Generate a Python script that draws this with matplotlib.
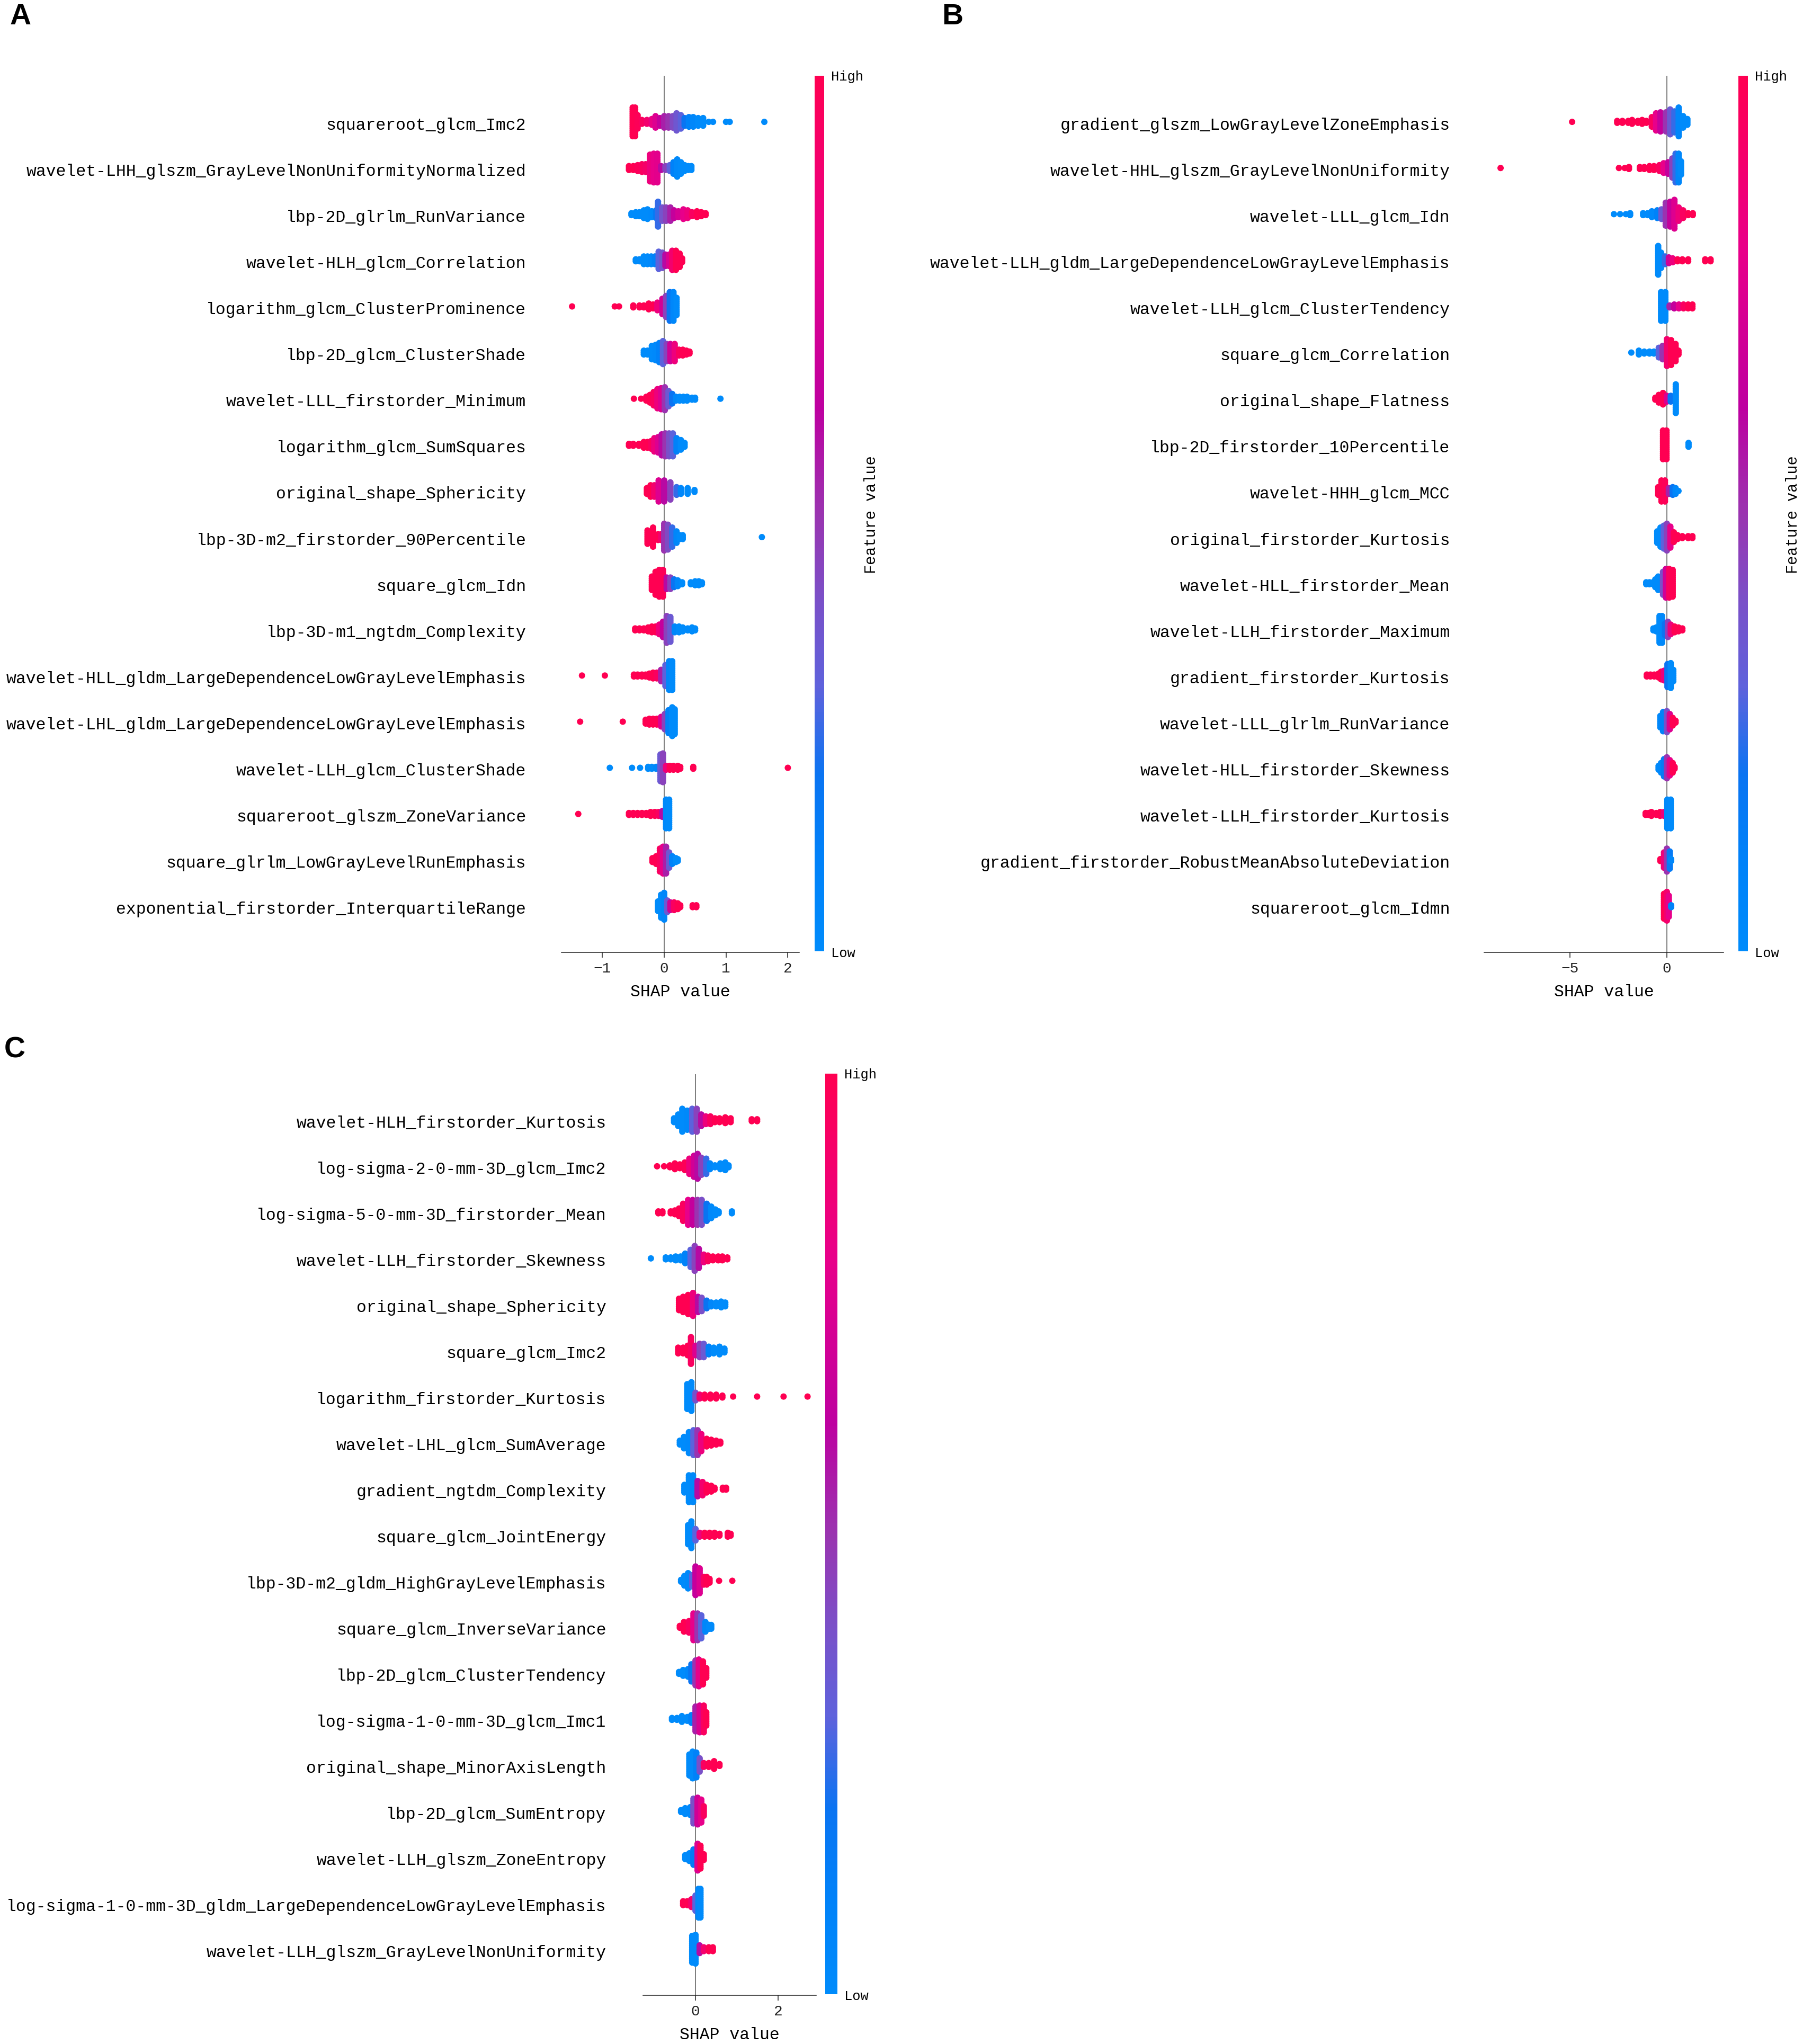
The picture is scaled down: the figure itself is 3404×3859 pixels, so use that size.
import numpy as np
from matplotlib import pyplot as plt
from matplotlib.cm import ScalarMappable
from matplotlib.colors import LinearSegmentedColormap, Normalize
from matplotlib.transforms import ScaledTranslation

W, H = 3405, 3859

features_a = [
    'squareroot_glcm_Imc2', 'wavelet-LHH_glszm_GrayLevelNonUniformityNormalized',
    'lbp-2D_glrlm_RunVariance', 'wavelet-HLH_glcm_Correlation',
    'logarithm_glcm_ClusterProminence', 'lbp-2D_glcm_ClusterShade',
    'wavelet-LLL_firstorder_Minimum', 'logarithm_glcm_SumSquares',
    'original_shape_Sphericity', 'lbp-3D-m2_firstorder_90Percentile',
    'square_glcm_Idn', 'lbp-3D-m1_ngtdm_Complexity',
    'wavelet-HLL_gldm_LargeDependenceLowGrayLevelEmphasis',
    'wavelet-LHL_gldm_LargeDependenceLowGrayLevelEmphasis',
    'wavelet-LLH_glcm_ClusterShade', 'squareroot_glszm_ZoneVariance',
    'square_glrlm_LowGrayLevelRunEmphasis', 'exponential_firstorder_InterquartileRange',
]
features_b = [
    'gradient_glszm_LowGrayLevelZoneEmphasis', 'wavelet-HHL_glszm_GrayLevelNonUniformity',
    'wavelet-LLL_glcm_Idn', 'wavelet-LLH_gldm_LargeDependenceLowGrayLevelEmphasis',
    'wavelet-LLH_glcm_ClusterTendency', 'square_glcm_Correlation',
    'original_shape_Flatness', 'lbp-2D_firstorder_10Percentile',
    'wavelet-HHH_glcm_MCC', 'original_firstorder_Kurtosis',
    'wavelet-HLL_firstorder_Mean', 'wavelet-LLH_firstorder_Maximum',
    'gradient_firstorder_Kurtosis', 'wavelet-LLL_glrlm_RunVariance',
    'wavelet-HLL_firstorder_Skewness', 'wavelet-LLH_firstorder_Kurtosis',
    'gradient_firstorder_RobustMeanAbsoluteDeviation', 'squareroot_glcm_Idmn',
]
features_c = [
    'wavelet-HLH_firstorder_Kurtosis', 'log-sigma-2-0-mm-3D_glcm_Imc2',
    'log-sigma-5-0-mm-3D_firstorder_Mean', 'wavelet-LLH_firstorder_Skewness',
    'original_shape_Sphericity', 'square_glcm_Imc2',
    'logarithm_firstorder_Kurtosis', 'wavelet-LHL_glcm_SumAverage',
    'gradient_ngtdm_Complexity', 'square_glcm_JointEnergy',
    'lbp-3D-m2_gldm_HighGrayLevelEmphasis', 'square_glcm_InverseVariance',
    'lbp-2D_glcm_ClusterTendency', 'log-sigma-1-0-mm-3D_glcm_Imc1',
    'original_shape_MinorAxisLength', 'lbp-2D_glcm_SumEntropy',
    'wavelet-LLH_glszm_ZoneEntropy',
    'log-sigma-1-0-mm-3D_gldm_LargeDependenceLowGrayLevelEmphasis',
    'wavelet-LLH_glszm_GrayLevelNonUniformity',
]

# for every feature: shap value of a column of the swarm, dots in it, feature value
shap_a = [
    [-.51, -.47, -.43, -.36, -.28, -.2, -.14, -.07, 0, .07, .14, .2, .27, .33, .4, .47, .55, .63, .72, .79, 1.0, 1.06, 1.62],
    [-.57, -.5, -.43, -.36, -.3, -.23, -.17, -.11, -.05, .02, .09, .15, .21, .27, .33, .39, .44],
    [-.53, -.46, -.4, -.33, -.27, -.2, -.13, -.1, -.03, .03, .1, .16, .23, .31, .38, .45, .53, .6, .67],
    [-.46, -.4, -.33, -.27, -.21, -.15, -.09, -.03, .02, .08, .13, .19, .25, .29],
    [-1.49, -.8, -.73, -.5, -.4, -.33, -.25, -.18, -.11, -.03, .03, .09, .15, .2],
    [-.33, -.27, -.2, -.14, -.08, -.02, .04, .1, .17, .24, .3, .36, .41],
    [-.49, -.375, -.29, -.23, -.17, -.11, -.05, .01, .07, .13, .19, .25, .31, .37, .45, .5, .91],
    [-.57, -.5, -.41, -.33, -.27, -.21, -.16, -.1, -.04, .02, .08, .14, .2, .27, .33],
    [-.28, -.22, -.16, -.09, 0, .1, .2, .27, .38, .49],
    [-.27, -.18, -.1, -.05, 0, .06, .13, .2, .25, .3, 1.58],
    [-.2, -.14, -.08, -.02, .04, .1, .16, .22, .29, .43, .5, .56, .61],
    [-.47, -.4, -.33, -.26, -.2, -.14, -.08, -.02, .04, .1, .17, .24, .3, .38, .45, .5],
    [-1.33, -.96, -.49, -.43, -.36, -.3, -.24, -.18, -.12, -.05, .02, .08, .13],
    [-1.36, -.67, -.3, -.24, -.18, -.12, -.05, .01, .07, .13, .17],
    [-.88, -.52, -.39, -.26, -.2, -.13, -.06, -.02, .03, .09, .15, .22, .26, .47, 2.0],
    [-1.39, -.57, -.5, -.43, -.36, -.29, -.22, -.15, -.09, -.03, .03, .08],
    [-.19, -.13, -.07, -.02, .03, .08, .13, .19, .22],
    [-.1, -.05, 0, .05, .1, .16, .22, .26, .46, .52],
]
count_a = [
    [16, 16, 8, 3, 3, 4, 7, 5, 7, 7, 7, 10, 8, 5, 6, 6, 5, 5, 1, 1, 1, 1, 1],
    [3, 3, 4, 5, 5, 15, 16, 16, 3, 3, 4, 7, 10, 7, 4, 3, 3],
    [2, 3, 3, 5, 6, 4, 5, 14, 8, 8, 8, 5, 4, 6, 5, 3, 4, 3, 2],
    [2, 2, 5, 5, 5, 5, 10, 9, 7, 7, 11, 11, 8, 3],
    [1, 1, 1, 2, 2, 2, 4, 3, 5, 9, 12, 16, 16, 10],
    [3, 3, 8, 9, 11, 13, 10, 10, 10, 4, 4, 3, 2],
    [1, 1, 3, 5, 8, 11, 12, 13, 9, 6, 3, 3, 3, 3, 2, 2, 1],
    [2, 2, 2, 4, 4, 5, 8, 9, 12, 13, 13, 13, 8, 6, 3],
    [4, 7, 7, 12, 12, 10, 5, 4, 4, 2],
    [8, 11, 4, 4, 15, 14, 11, 7, 3, 3, 1],
    [8, 13, 15, 15, 7, 7, 5, 4, 2, 2, 3, 3, 2],
    [2, 2, 2, 3, 4, 4, 6, 9, 15, 14, 4, 4, 3, 2, 3, 2],
    [1, 1, 2, 2, 2, 2, 3, 4, 4, 7, 12, 16, 16],
    [1, 1, 3, 4, 4, 4, 6, 9, 13, 16, 14],
    [1, 1, 1, 2, 2, 2, 15, 16, 3, 3, 3, 3, 2, 2, 1],
    [1, 2, 2, 2, 2, 2, 3, 3, 3, 4, 16, 16],
    [3, 5, 13, 15, 15, 9, 5, 3, 2],
    [6, 13, 15, 7, 5, 5, 4, 2, 2, 2],
]
value_a = [
    [1, 1, .98, .95, .9, .82, .75, .65, .55, .5, .42, .36, .3, .2, .1, .05, 0, 0, 0, 0, 0, 0, 0],
    [1, 1, .97, .95, .92, .85, .8, .78, .6, .45, .3, .1, .03, 0, 0, 0, 0],
    [0, 0, 0, 0, 0, .02, .15, .25, .38, .45, .55, .65, .72, .8, .85, .95, 1, 1, 1],
    [0, 0, 0, 0, .02, .1, .3, .38, .6, .75, .9, 1, 1, 1],
    [1, 1, 1, 1, 1, 1, 1, 1, .85, .7, .45, .2, .05, 0],
    [0, 0, 0, .02, .1, .3, .45, .7, .85, .95, 1, 1, 1],
    [1, 1, 1, 1, .95, .85, .75, .5, .35, .2, .05, 0, 0, 0, 0, 0, 0],
    [1, 1, 1, 1, 1, .95, .85, .75, .6, .5, .4, .3, .1, 0, 0],
    [1, 1, .9, .75, .6, .45, .25, .05, 0, 0],
    [1, 1, 1, .9, .5, .42, .25, .05, 0, 0, 0],
    [1, 1, 1, .98, .6, .45, .2, .05, 0, 0, 0, 0, 0],
    [1, 1, 1, 1, 1, 1, .85, .65, .45, .35, .05, 0, 0, 0, 0, 0],
    [1, 1, 1, 1, 1, 1, 1, 1, .95, .55, .3, .05, 0],
    [1, 1, 1, 1, 1, 1, .75, .45, .1, 0, 0],
    [0, 0, 0, 0, 0, .05, .35, .45, .85, 1, 1, 1, 1, 1, 1],
    [1, 1, 1, 1, 1, 1, 1, 1, .95, .6, .02, 0],
    [1, 1, .95, .8, .55, .35, .1, 0, 0],
    [0, 0, .05, .35, .7, .95, 1, 1, 1, 1],
]

shap_b = [
    [-4.9, -2.57, -2.3, -2.0, -1.8, -1.5, -1.28, -1.06, -.78, -.56, -.33, -.05, .17, .39, .61, .84, 1.06],
    [-8.6, -2.48, -2.18, -1.96, -1.4, -1.17, -.9, -.67, -.39, -.17, .06, .28, .45, .61, .73],
    [-2.74, -2.42, -2.12, -1.9, -1.23, -1.0, -.78, -.5, -.28, -.06, .17, .39, .61, .84, 1.1, 1.34],
    [-.45, -.3, -.1, .1, .3, .55, .8, 1.1, 1.98, 2.26],
    [-.3, -.08, .14, .38, .62, .86, 1.1, 1.32],
    [-1.84, -1.45, -1.17, -.9, -.67, -.42, -.22, 0, .22, .45, .6],
    [-.6, -.42, -.2, 0, .2, .46],
    [-.2, -.02, 1.12],
    [-.45, -.28, -.1, .1, .3, .45, .6],
    [-.5, -.33, -.16, 0, .18, .36, .55, .8, 1.1, 1.32],
    [-1.07, -.9, -.72, -.6, -.45, -.2, -.05, .12, .3],
    [-.7, -.55, -.38, -.25, -.1, .05, .2, .4, .6, .8],
    [-1.04, -.85, -.65, -.43, -.3, -.15, .03, .2, .33],
    [-.34, -.2, 0, .15, .3, .45],
    [-.43, -.3, -.15, 0, .15, .3, .4],
    [-1.1, -.95, -.8, -.55, -.35, -.15, .02, .2],
    [-.34, -.15, 0, .15, .22],
    [-.15, 0, .1, .22],
]
count_b = [
    [1, 2, 2, 2, 3, 2, 3, 2, 6, 10, 11, 11, 14, 12, 16, 7, 4],
    [1, 1, 1, 2, 2, 2, 3, 3, 4, 6, 7, 11, 16, 16, 8],
    [1, 1, 1, 2, 2, 2, 4, 5, 6, 13, 14, 16, 8, 5, 2, 2],
    [16, 9, 5, 4, 3, 2, 2, 2, 2, 2],
    [16, 16, 2, 3, 3, 3, 3, 3],
    [1, 3, 2, 2, 2, 6, 8, 15, 14, 10, 3],
    [2, 5, 7, 4, 4, 16],
    [16, 16, 3],
    [5, 12, 12, 4, 5, 4, 1],
    [7, 11, 13, 15, 12, 6, 3, 2, 2, 2],
    [2, 2, 2, 5, 8, 13, 16, 16, 15],
    [2, 3, 15, 15, 7, 9, 6, 4, 3, 2],
    [2, 2, 2, 3, 5, 6, 13, 14, 7],
    [7, 11, 12, 9, 5, 2],
    [3, 6, 10, 12, 9, 6, 2],
    [2, 2, 3, 2, 3, 3, 16, 16],
    [2, 9, 13, 10, 2],
    [14, 16, 12, 2],
]
value_b = [
    [1, 1, 1, 1, 1, 1, 1, 1, .95, .8, .65, .5, .35, .25, .05, 0, 0],
    [1, 1, 1, 1, 1, 1, 1, 1, .95, .8, .65, .45, .25, .05, 0],
    [0, 0, 0, 0, 0, 0, .02, .1, .35, .5, .65, .75, .85, .95, 1, 1],
    [0, 0, .25, .7, .85, 1, 1, 1, 1, 1],
    [0, 0, .55, .65, .8, .95, 1, 1],
    [0, 0, 0, 0, 0, .3, .5, .9, 1, 1, 1],
    [1, 1, 1, .75, .2, 0],
    [1, 1, 0],
    [1, 1, .98, .55, .2, .05, 0],
    [0, 0, .3, .45, .8, 1, 1, 1, 1, 1],
    [0, 0, 0, 0, 0, .4, .7, .95, 1],
    [0, 0, 0, .02, .2, .45, .85, 1, 1, 1],
    [1, 1, 1, 1, 1, .85, .2, 0, 0],
    [.05, .1, .4, .75, 1, 1],
    [.02, .05, .15, .5, .8, 1, 1],
    [1, 1, 1, 1, 1, .85, .03, 0],
    [1, .85, .5, .15, .05],
    [1, .9, .8, .1],
]

shap_c = [
    [-.52, -.42, -.32, -.2, -.08, .03, .14, .25, .36, .47, .58, .72, .85, 1.36, 1.49],
    [-.93, -.76, -.62, -.5, -.38, -.26, -.15, -.04, .05, .14, .26, .35, .47, .6, .72, .8],
    [-.9, -.8, -.6, -.5, -.4, -.3, -.18, -.07, .05, .15, .27, .38, .48, .56, .88],
    [-1.08, -.72, -.6, -.48, -.36, -.25, -.12, -.02, .08, .2, .3, .42, .55, .65, .77],
    [-.4, -.3, -.18, -.06, .06, .15, .27, .38, .5, .62, .72],
    [-.42, -.3, -.19, -.11, 0, .1, .2, .32, .44, .58, .7],
    [-.2, -.1, 0, .1, .22, .36, .5, .65, .91, 1.49, 2.13, 2.71],
    [-.38, -.28, -.16, -.05, .05, .14, .27, .38, .5, .6],
    [-.27, -.16, -.06, .05, .17, .27, .38, .46, .66, .74],
    [-.18, -.1, 0, .1, .22, .34, .46, .58, .78, .85],
    [-.35, -.27, -.18, -.08, 0, .1, .2, .27, .34, .57, .89],
    [-.38, -.28, -.16, -.05, .05, .14, .24, .33, .38],
    [-.4, -.3, -.18, -.1, 0, .08, .18, .26],
    [-.57, -.45, -.33, -.2, -.1, 0, .1, .2, .26],
    [-.15, -.07, .02, .1, .2, .32, .45, .58],
    [-.35, -.25, -.13, -.05, .05, .14, .2],
    [-.25, -.15, -.05, .05, .12, .2],
    [-.3, -.2, -.1, 0, .07, .12],
    [-.08, 0, .1, .2, .32, .42],
]
count_c = [
    [3, 7, 13, 11, 13, 13, 7, 5, 5, 3, 3, 4, 3, 2, 2],
    [1, 1, 2, 4, 3, 5, 9, 12, 14, 10, 9, 4, 2, 4, 5, 2],
    [2, 2, 2, 3, 5, 10, 14, 14, 14, 14, 10, 7, 4, 2, 2],
    [1, 2, 2, 3, 3, 6, 10, 14, 11, 5, 4, 3, 3, 3, 2],
    [7, 9, 11, 13, 9, 8, 5, 3, 3, 4, 3],
    [4, 4, 6, 15, 6, 8, 8, 5, 4, 5, 3],
    [14, 16, 5, 3, 3, 3, 3, 2, 1, 1, 1, 1],
    [3, 7, 12, 14, 14, 10, 5, 4, 3, 2],
    [5, 15, 15, 9, 8, 5, 4, 2, 2, 2],
    [11, 15, 7, 3, 3, 3, 3, 2, 3, 2],
    [2, 6, 9, 7, 16, 14, 5, 5, 3, 1, 1],
    [2, 6, 7, 15, 15, 13, 6, 3, 3],
    [2, 4, 5, 10, 14, 15, 13, 6],
    [2, 2, 4, 3, 5, 14, 15, 15, 8],
    [12, 15, 14, 8, 3, 3, 5, 2],
    [2, 4, 5, 14, 15, 13, 6],
    [3, 5, 9, 15, 13, 4],
    [3, 3, 5, 9, 16, 16],
    [15, 16, 5, 3, 3, 3],
]
value_c = [
    [0, 0, 0, .03, .3, .45, .6, .85, .95, 1, 1, 1, 1, 1, 1],
    [1, 1, 1, 1, 1, .98, .85, .7, .6, .45, .25, .05, 0, 0, 0, 0],
    [1, 1, 1, 1, 1, .95, .8, .65, .5, .4, .2, .03, 0, 0, 0],
    [0, 0, 0, 0, 0, .1, .3, .45, .6, .85, .95, 1, 1, 1, 1],
    [1, 1, 1, .85, .6, .4, .2, .05, 0, 0, 0],
    [1, 1, 1, .95, .75, .45, .35, .1, 0, 0, 0],
    [0, 0, .4, .9, 1, 1, 1, 1, 1, 1, 1, 1],
    [0, 0, .02, .3, .5, .85, 1, 1, 1, 1],
    [0, 0, .03, .6, .9, 1, 1, 1, 1, 1],
    [0, 0, .3, .85, 1, 1, 1, 1, 1, 1],
    [0, 0, .03, .3, .65, .75, .95, 1, 1, 1, 1],
    [1, 1, .95, .8, .5, .3, .05, 0, 0],
    [0, 0, .05, .2, .5, .8, 1, 1],
    [0, 0, 0, 0, .1, .55, .75, .95, 1],
    [0, 0, .1, .4, .95, 1, 1, 1],
    [0, 0, .02, .4, .7, .8, .95],
    [0, .03, .15, .75, 1, 1],
    [1, 1, .9, .3, .02, 0],
    [0, 0, .6, .9, 1, 1],
]

# colour bar stops, low to high
cmap_pos = [0, .1, .2, .3, .4, .5, .62, .8, 1]
cmap_col = ['#008bfb', '#0082f9', '#0a74f2', '#5e62dc', '#7a50c8', '#9a34b0', '#bd00a0', '#e8008a', '#ff0052']

NAVY = '#222222'
MONO = 'Liberation Mono'

red_blue = LinearSegmentedColormap.from_list('red_blue', list(zip(cmap_pos, cmap_col)))


def px_axes(fig, left, right, top, bottom):
    return fig.add_axes([left / W, 1 - bottom / H, (right - left) / W, (bottom - top) / H])


def px_text(fig, x, y, s, **kw):
    fig.text(x / W, 1 - y / H, s, **kw)


def swarm(fig, box, xlim, xticks, features, shap, count, value, pad):
    ax = px_axes(fig, *box)
    n = len(features)
    xs, ys, cs = [], [], []
    for i, (sx, sn, sv) in enumerate(zip(shap, count, value, strict=True)):
        for x, c, v in zip(sx, sn, sv, strict=True):
            off = (np.arange(c) - (c - 1) / 2) * 0.0414
            xs.extend([x] * c)
            ys.extend(n - 1 - i + off)
            cs.extend([v] * c)
    ax.axvline(0, color='#666666', lw=1.2, zorder=1)
    ax.scatter(xs, ys, c=cs, s=75, cmap=red_blue, vmin=0, vmax=1, linewidths=0, zorder=3)
    ax.set_xlim(*xlim)
    ax.set_ylim(-1, n)
    ax.set_yticks(range(n))
    ax.set_yticklabels(features[::-1], family=MONO, fontsize=22.6, color='black')
    ax.tick_params(axis='y', length=0, pad=pad)
    # reference labels sit a little under the row centre
    down = ScaledTranslation(0, -3 / 100, fig.dpi_scale_trans)
    for lab in ax.get_yticklabels():
        lab.set_transform(lab.get_transform() + down)
    ax.set_xticks(xticks)
    ax.tick_params(axis='x', length=7, width=1.1, color=NAVY, pad=6, labelsize=20, labelcolor=NAVY)
    for lab in ax.get_xticklabels():
        lab.set_family(MONO)
    for side in ('left', 'right', 'top'):
        ax.spines[side].set_visible(False)
    ax.spines['bottom'].set_color(NAVY)
    ax.spines['bottom'].set_linewidth(1.1)
    px_text(fig, (box[0] + box[1]) / 2, box[3] + 75, 'SHAP value', family=MONO, fontsize=22.6,
            ha='center', va='center')


def value_bar(fig, box, feature_x=None):
    cax = px_axes(fig, *box)
    cb = fig.colorbar(ScalarMappable(Normalize(0, 1), red_blue), cax=cax)
    cb.set_ticks([])
    cb.outline.set_visible(False)
    left, right, top, bottom = box
    px_text(fig, right + 13, top + 2, 'High', family=MONO, fontsize=18.4, va='center')
    px_text(fig, right + 13, bottom + 4, 'Low', family=MONO, fontsize=18.4, va='center')
    if feature_x:
        px_text(fig, feature_x, (top + bottom) / 2 + 2, 'Feature value', family=MONO, fontsize=20.6,
                rotation=90, ha='center', va='center')


fig = plt.figure(figsize=(W / 100, H / 100), dpi=100, facecolor='white')

swarm(fig, (1060, 1509, 143, 1798), (-1.662, 2.185), [-1, 0, 1, 2],
      features_a, shap_a, count_a, value_a, 48)
value_bar(fig, (1538, 1556, 143, 1796), 1645)

swarm(fig, (2802, 3254, 143, 1798), (-9.45, 2.93), [-5, 0],
      features_b, shap_b, count_b, value_b, 46.5)
value_bar(fig, (3282, 3300, 143, 1796), 3385)

swarm(fig, (1214, 1541, 2028, 3767), (-1.27, 2.92), [0, 2],
      features_c, shap_c, count_c, value_c, 50)
value_bar(fig, (1558, 1581, 2027, 3765))

for letter, x, y in (('A', 19, 46), ('B', 1778, 46), ('C', 8, 1996)):
    px_text(fig, x, y, letter, family='Liberation Sans', fontweight='bold', fontsize=40, va='baseline')

fig.savefig('out.png', dpi=100)
